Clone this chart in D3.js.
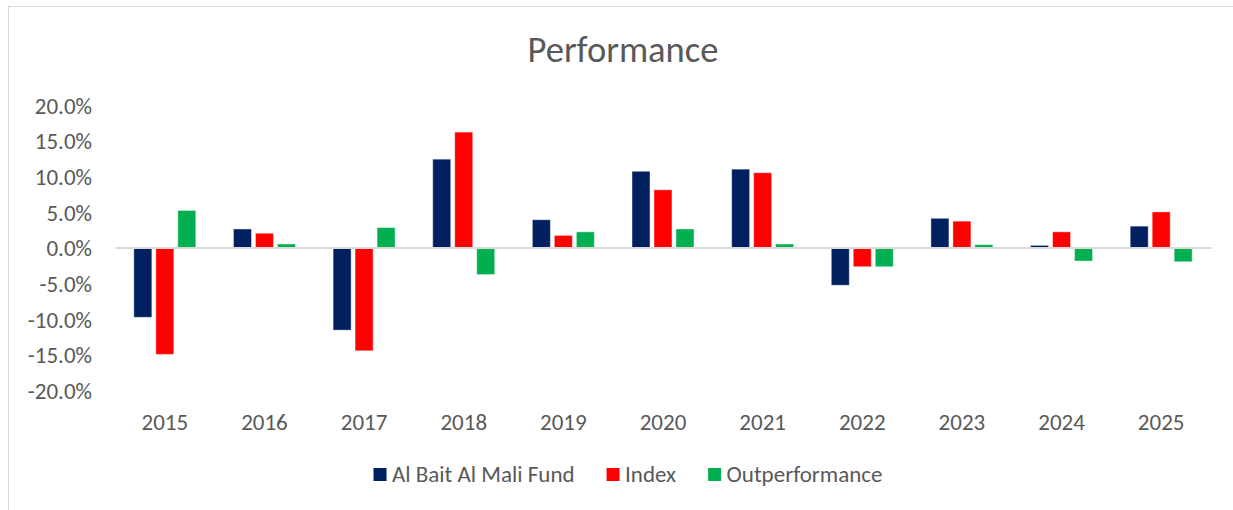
<!DOCTYPE html>
<html>
<head>
<meta charset="utf-8">
<script src="https://cdn.jsdelivr.net/npm/d3@7/dist/d3.min.js"></script>
<style>
  html, body { margin: 0; padding: 0; background: #fff; }
  svg { display: block; }
  text { font-family: Carlito, Calibri, Lato, "Open Sans", sans-serif; fill: #595959; }
</style>
</head>
<body>
<svg id="chart" width="1233" height="510"></svg>
<script>
const title = "Performance";
const categories = ["2015","2016","2017","2018","2019","2020","2021","2022","2023","2024","2025"];
const seriesNames = ["Al Bait Al Mali Fund", "Index", "Outperformance"];
const seriesColors = ["#002060", "#FF0000", "#00B050"];
const fundValues = [-9.8, 2.6, -11.6, 12.4, 3.9, 10.7, 11.0, -5.3, 4.1, 0.3, 3.0];
const indexValues = [-15.0, 2.0, -14.5, 16.2, 1.7, 8.1, 10.5, -2.7, 3.7, 2.2, 5.0];
const outperfValues = [5.2, 0.5, 2.8, -3.8, 2.2, 2.6, 0.5, -2.7, 0.4, -1.9, -2.0];
const yTicks = [20, 15, 10, 5, 0, -5, -10, -15, -20];

const seriesValues = [fundValues, indexValues, outperfValues];

const svg = d3.select("#chart");

// chart area border
svg.append("rect")
  .attr("x", 8.5).attr("y", 6.5)
  .attr("width", 1400).attr("height", 700)
  .attr("fill", "#fff").attr("stroke", "#D9D9D9").attr("stroke-width", 1);

const plot = { left: 115, right: 1211, top: 105, bottom: 390 };

const x0 = d3.scaleBand().domain(categories).range([plot.left, plot.right]).paddingInner(0).paddingOuter(0);
const groupW = 62;
const x1 = d3.scaleBand().domain(seriesNames).range([0, groupW]).paddingInner(0.18).paddingOuter(0);
const y = d3.scaleLinear().domain([-20, 20]).range([plot.bottom, plot.top]);

const labelSize = "23px";

// Title
svg.append("text")
  .attr("x", 623).attr("y", 62)
  .attr("text-anchor", "middle")
  .style("font-size", "36.5px")
  .text(title);

// Y axis labels
const yAxis = d3.axisLeft(y).tickValues(yTicks).tickSize(0).tickPadding(0)
  .tickFormat(d => d.toFixed(1) + "%");
const yg = svg.append("g").attr("transform", `translate(92,0)`).call(yAxis);
yg.select(".domain").remove();
yg.selectAll("text").style("font-size", labelSize).attr("fill", "#595959").attr("dy", "0.36em");

// Bars
const groups = svg.append("g").selectAll("g")
  .data(categories)
  .join("g")
  .attr("transform", d => `translate(${x0(d) + (x0.bandwidth() - groupW) / 2},0)`);

groups.selectAll("rect")
  .data((d, i) => seriesNames.map((s, k) => ({ s, k, v: seriesValues[k][i] })))
  .join("rect")
  .attr("x", d => x1(d.s))
  .attr("width", x1.bandwidth())
  .attr("y", d => y(Math.max(0, d.v)))
  .attr("height", d => Math.abs(y(d.v) - y(0)))
  .attr("fill", d => seriesColors[d.k])
  .attr("stroke", "#fff").attr("stroke-opacity", 0.45).attr("stroke-width", 1);

// Zero line (category axis)
const xAxis = d3.axisBottom(x0).tickSize(0).tickPadding(0);
const xg = svg.append("g").attr("transform", `translate(0,${y(0)})`).call(xAxis);
xg.select(".domain").attr("stroke", "#D9D9D9").attr("stroke-width", 2);
xg.selectAll("text")
  .attr("y", 430 - y(0)).attr("dy", 0)
  .style("font-size", labelSize).attr("fill", "#595959");

// Legend
const legend = svg.append("g");
const sq = 13, gapText = 5.5, gapItem = 32;
const items = legend.selectAll("g").data(seriesNames).join("g");
items.append("rect").attr("width", sq).attr("height", sq).attr("y", -13.5)
  .attr("fill", (d, i) => seriesColors[i]);
items.append("text").attr("x", sq + gapText).attr("y", 0)
  .style("font-size", labelSize).text(d => d);
let cx = 0;
items.each(function() {
  const w = d3.select(this).select("text").node().getComputedTextLength();
  d3.select(this).attr("transform", `translate(${cx},0)`);
  cx += sq + gapText + w + gapItem;
});
const totalW = cx - gapItem;
legend.attr("transform", `translate(${628 - totalW / 2},481.5)`);
</script>
</body>
</html>
